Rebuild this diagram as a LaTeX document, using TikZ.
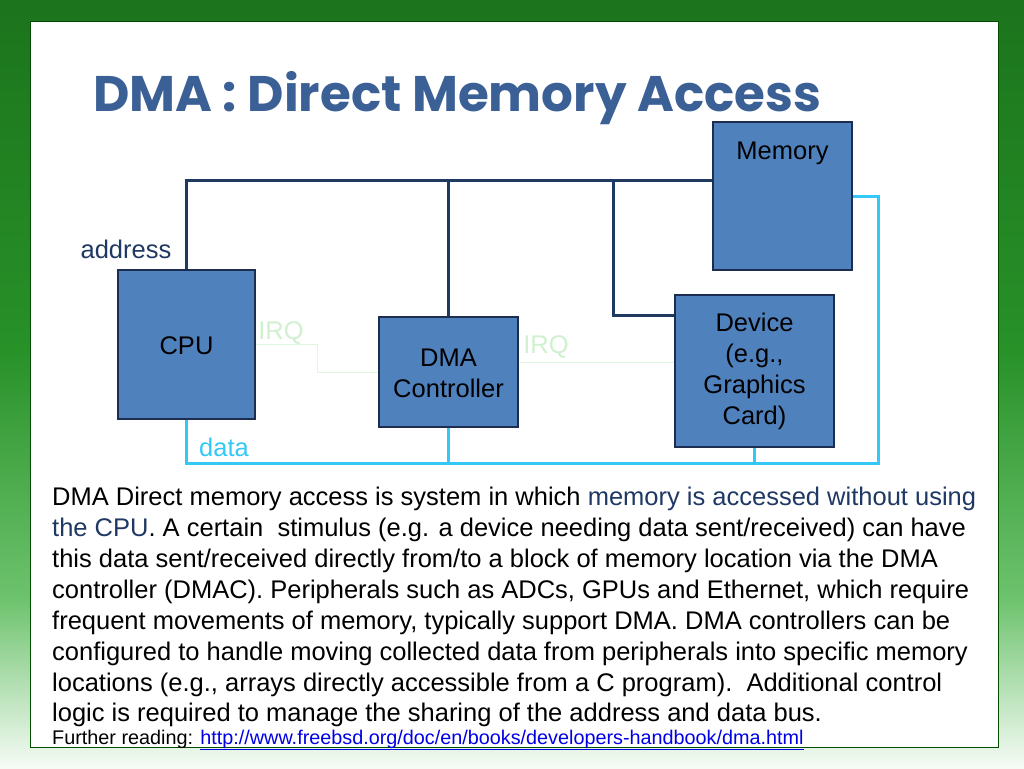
\documentclass[tikz,border=0pt]{standalone}
\usepackage{fontspec}
\setmainfont{Liberation Sans}
\newfontfamily\titlefont{Poppins}
\usetikzlibrary{calc}

\definecolor{boxfill}{RGB}{79,129,189}
\definecolor{boxline}{RGB}{28,45,80}
\definecolor{addrcol}{RGB}{31,58,96}
\definecolor{datacol}{RGB}{51,200,245}
\definecolor{irqcol}{RGB}{222,245,222}
\definecolor{irqtext}{RGB}{208,240,208}
\definecolor{titleblue}{RGB}{59,96,150}
\definecolor{navytext}{RGB}{31,56,100}
\definecolor{linkblue}{RGB}{0,0,230}
\definecolor{greentop}{RGB}{28,116,28}
\definecolor{greenmid}{RGB}{40,145,40}
\definecolor{greenlow}{RGB}{110,195,110}
\definecolor{greenbot}{RGB}{246,251,246}

\begin{document}
\begin{tikzpicture}[x=1pt, y=-1pt]

    % --- Styles ---
    \tikzset{
        unit/.style={draw=boxline, line width=1.2pt, fill=boxfill, inner sep=0pt},
        unittext/.style={inner sep=0pt, font=\fontsize{25.5}{31}\selectfont, align=center},
        addrbus/.style={draw=addrcol, line width=3pt},
        databus/.style={draw=datacol, line width=3pt},
        irqline/.style={draw=irqcol, line width=1pt},
        buslabel/.style={font=\fontsize{25.5}{30}\selectfont, inner sep=0pt}
    }

    % --- Hintergrund ---
    \useasboundingbox (0,0) rectangle (1024,768);
    \shade[top color=greentop, bottom color=greenmid] (0,0) rectangle (1024,350.5);
    \shade[top color=greenmid, bottom color=greenlow] (0,350) rectangle (1024,600.5);
    \shade[top color=greenlow, bottom color=greenbot] (0,600) rectangle (1024,768);
    \draw[fill=white, draw=black!70!green, line width=0.8pt] (30,21) rectangle (998,747);

    % --- Titel ---
    \node[anchor=base west, inner sep=0pt, text=titleblue, font=\titlefont\bfseries\fontsize{50}{58}\selectfont] (title) at (93,111) {DMA : Direct Memory Access};

    % --- Hilfspunkte der Busse ---
    \coordinate (atop) at (0,180);
    \coordinate (dbot) at (0,463);
    \coordinate (dright) at (878,0);
    \coordinate (atap) at (613,180);
    \coordinate (devaddr) at (0,315);
    \coordinate (irqrow) at (0,362);

    % --- Bausteine ---
    \node[unit, minimum width=139pt, minimum height=148pt] (memory) at (782.5,196) {};
    \node[unit, minimum width=137pt, minimum height=149pt] (cpu) at (186.5,344.5) {};
    \node[unit, minimum width=139pt, minimum height=110pt] (dmac) at (448.5,372) {};
    \node[unit, minimum width=159pt, minimum height=152pt] (device) at (754.5,371) {};

    % --- Adressbus ---
    \draw[addrbus] (cpu.north) |- (memory.west |- atop);
    \draw[addrbus] (dmac.north) -- (dmac.north |- atop);
    \draw[addrbus] (atap) |- (device.west |- devaddr);

    % --- Datenbus ---
    \draw[databus] (cpu.south) |- (dright |- dbot) |- (memory.east);
    \draw[databus] (dmac.south) -- (dmac.south |- dbot);
    \draw[databus] (device.south) -- (device.south |- dbot);

    % --- IRQ ---
    \draw[irqline] (cpu.east) -| ($(cpu.east)!0.5!(dmac.west)$) |- (dmac.west);
    \draw[irqline] (dmac.east |- irqrow) -- (device.west |- irqrow);

    % --- Beschriftungen in den Bausteinen ---
    \node[unittext] (memtext) at (782.5,153) {Memory};
    \node[unittext] (cputext) at (186.5,346) {CPU};
    \node[unittext] (dmactext) at (448.5,373) {DMA\\Controller};
    \node[unittext] (devtext) at (754.5,371) {Device\\(e.g.,\\Graphics\\Card)};

    % --- Busbeschriftungen ---
    \node[buslabel, text=navytext] (addrlabel) at (126,249) {address};
    \node[buslabel, text=datacol] (datalabel) at (224,447) {data};
    \node[buslabel, text=irqtext] (irqlabela) at (281,333) {IRQ};
    \node[buslabel, text=irqtext] (irqlabelb) at (546,347) {IRQ};

    % --- Erklaerungstext ---
    \node[anchor=north west, inner sep=0pt, align=left, font=\fontsize{25.5}{30.9}\selectfont] (body) at (52,487) {%
        DMA Direct memory access is system in which \textcolor{navytext}{memory is accessed without using}\\
        \textcolor{navytext}{the CPU}. A certain\ \ stimulus (e.g. a device needing data sent/received) can have\\
        this data sent/received directly from/to a block of memory location via the DMA\\
        controller (DMAC). Peripherals such as ADCs, GPUs and Ethernet, which require\\
        frequent movements of memory, typically support DMA. DMA controllers can be\\
        configured to handle moving collected data from peripherals into specific memory\\
        locations (e.g., arrays directly accessible from a C program).\ \ Additional control\\
        logic is required to manage the sharing of the address and data bus.};
    \node[anchor=base west, inner sep=0pt, font=\fontsize{19.8}{24}\selectfont] (further) at (52,744) {Further reading: \textcolor{linkblue}{\underline{http://www.freebsd.org/doc/en/books/developers-handbook/dma.html}}};

\end{tikzpicture}
\end{document}
